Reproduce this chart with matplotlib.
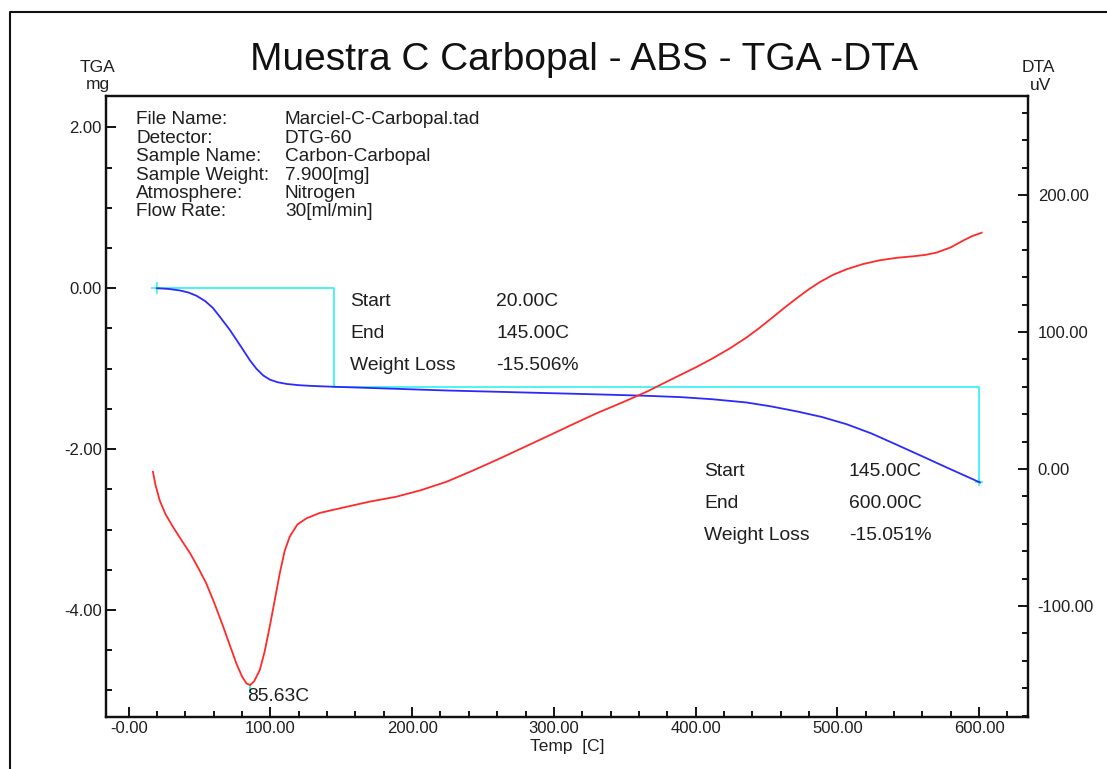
import numpy as np
import matplotlib as mpl
mpl.use('Agg')
import matplotlib.pyplot as plt
from matplotlib.ticker import MultipleLocator

plt.rcParams['font.family'] = ['Liberation Sans', 'DejaVu Sans']

# TGA curve (temperature C, mass change mg)
tga_temp = [20.0, 28.0, 36.0, 42.0, 47.8, 54.0, 59.5, 65.0, 71.3, 76.0, 80.7,
            85.5, 90.1, 95.0, 99.5, 105.0, 111.6, 120.0, 127.7, 136.0, 145.0,
            185.0, 224.2, 260.0, 294.8, 330.0, 365.4, 388.9, 412.0, 435.9,
            453.0, 471.2, 489.0, 506.5, 524.0, 541.8, 560.0, 577.1, 590.0, 600.6]
tga_mass = [0.0, -0.008, -0.027, -0.052, -0.093, -0.16, -0.246, -0.37, -0.516,
            -0.64, -0.765, -0.895, -1.0, -1.085, -1.135, -1.168, -1.19, -1.205,
            -1.213, -1.219, -1.225, -1.248, -1.271, -1.287, -1.303, -1.319,
            -1.337, -1.353, -1.380, -1.420, -1.468, -1.530, -1.600, -1.690,
            -1.805, -1.945, -2.090, -2.228, -2.330, -2.414]

# DTA curve (temperature C, signal uV)
dta_temp = [17.1, 19.0, 21.9, 26.0, 31.3, 37.0, 43.4, 49.0, 54.8, 60.5, 66.7,
            71.5, 76.0, 80.0, 83.1, 85.63, 88.5, 92.5, 96.0, 99.5, 103.0, 106.6,
            110.0, 113.6, 119.0, 125.4, 135.0, 148.9, 170.0, 188.9, 206.0,
            224.2, 242.0, 259.5, 277.0, 294.8, 312.0, 330.1, 348.0, 365.4,
            383.0, 400.6, 412.4, 424.0, 435.9, 445.0, 454.7, 463.0, 471.2,
            480.0, 487.7, 497.0, 506.5, 518.0, 530.0, 542.0, 553.5, 562.0,
            570.0, 580.0, 588.8, 595.0, 601.8]
dta_uv = [-2.0, -12.0, -22.9, -33.0, -42.3, -51.5, -61.6, -72.0, -83.6, -98.0,
          -115.1, -129.0, -142.0, -151.5, -156.5, -157.7, -155.0, -146.7, -133.0,
          -115.1, -96.0, -76.1, -60.0, -49.4, -40.5, -36.0, -32.0, -28.7, -23.8,
          -20.2, -15.5, -9.3, -1.5, 6.6, 15.0, 23.6, 32.0, 40.7, 48.5, 56.4,
          65.5, 74.5, 81.0, 88.0, 96.0, 103.0, 111.0, 118.0, 124.6, 131.3,
          136.5, 141.8, 145.8, 149.6, 152.4, 154.2, 155.3, 156.3, 158.0, 161.8,
          166.8, 170.0, 172.5]

# weight loss steps
step_start = [20.0, 145.0]
step_end = [145.0, 600.0]
step_mass_start = [0.0, -1.225]
step_mass_end = [-1.225, -2.414]
step_loss = ["-15.506%", "-15.051%"]
peak_temp = 85.63
peak_uv = -157.7

x_ticks = [0, 100, 200, 300, 400, 500, 600]
x_labels = ["-0.00", "100.00", "200.00", "300.00", "400.00", "500.00", "600.00"]
tga_ticks = [2, 0, -2, -4]
dta_ticks = [200, 100, 0, -100]

info_keys = ["File Name:", "Detector:", "Sample Name:", "Sample Weight:",
             "Atmosphere:", "Flow Rate:"]
info_vals = ["Marciel-C-Carbopal.tad", "DTG-60", "Carbon-Carbopal",
             "7.900[mg]", "Nitrogen", "30[ml/min]"]

W, H = 1107, 769
txt = '#1e1e1e'
cyan = '#3ff2f2'

fig = plt.figure(figsize=(W / 100, H / 100), dpi=100)


def fx(px):
    return px / W


def fy(py):
    return 1 - py / H


ax = fig.add_axes([fx(106), fy(717), fx(1028) - fx(106), fy(96) - fy(717)])
ax2 = ax.twinx()

ax.set_xlim(-16, 634.5)
ax.set_ylim(-5.33, 2.39)
ax2.set_ylim(-181, 272.3)

# cyan step boxes
for s, e, m0, m1 in zip(step_start, step_end, step_mass_start, step_mass_end):
    ax.plot([s, e, e], [m0, m0, m1], color=cyan, linewidth=1.3, zorder=2)
ax.plot([step_start[0]], [step_mass_start[0]], marker='+', color=cyan,
        markersize=8, mew=1.2, zorder=3)
ax.plot([step_end[1]], [step_mass_end[1]], marker='+', color=cyan,
        markersize=6, mew=1.2, zorder=3)

ax.plot(tga_temp, tga_mass, color='#2a2aff', linewidth=1.3, zorder=4)
ax2.plot(dta_temp, dta_uv, color='#ff2a2a', linewidth=1.3, zorder=4)
ax2.plot([peak_temp, peak_temp], [peak_uv, peak_uv - 5], color=cyan, linewidth=1.5)

for a in (ax, ax2):
    for sp in a.spines.values():
        sp.set_linewidth(1.6)
        sp.set_color('#111111')

ax.set_xticks(x_ticks)
ax.set_xticklabels(x_labels)
ax.xaxis.set_minor_locator(MultipleLocator(20))
ax.set_yticks(tga_ticks)
ax.set_yticklabels(["%.2f" % v for v in tga_ticks])
ax.yaxis.set_minor_locator(MultipleLocator(0.5))
ax2.set_yticks(dta_ticks)
ax2.set_yticklabels(["%.2f" % v for v in dta_ticks])
ax2.yaxis.set_minor_locator(MultipleLocator(20))

ax.tick_params(which='major', direction='in', length=7, width=1.3,
               labelsize=12, labelcolor=txt, pad=3)
ax.tick_params(which='minor', direction='in', length=4, width=1.3)
ax2.tick_params(which='major', direction='in', length=7, width=1.3,
                labelsize=12, labelcolor=txt, pad=7)
ax2.tick_params(which='minor', direction='in', length=4, width=1.3)

# texts
fig.text(fx(584), fy(60), "Muestra C Carbopal - ABS - TGA -DTA", fontsize=28,
         ha='center', va='center', color='#111111')
fig.text(fx(97), fy(68), "TGA", fontsize=12.5, ha='center', va='center', color=txt)
fig.text(fx(98), fy(85), "mg", fontsize=12.5, ha='center', va='center', color=txt)
fig.text(fx(1038), fy(68), "DTA", fontsize=12.5, ha='center', va='center', color=txt)
fig.text(fx(1041), fy(85), "uV", fontsize=12.5, ha='center', va='center', color=txt)
fig.text(fx(567), fy(746), "Temp  [C]", fontsize=12.5, ha='center', va='center', color=txt)

for i, (k, v) in enumerate(zip(info_keys, info_vals)):
    y = 120 + i * 18.4
    fig.text(fx(136), fy(y), k, fontsize=13.7, ha='left', va='center', color=txt)
    fig.text(fx(285), fy(y), v, fontsize=13.7, ha='left', va='center', color=txt)

blocks = [(350, 496, 301), (704, 849, 471)]
for (kx, vx, y0), s, e, loss in zip(blocks, step_start, step_end, step_loss):
    rows = [("Start", "%.2fC" % s), ("End", "%.2fC" % e), ("Weight Loss", loss)]
    for j, (k, v) in enumerate(rows):
        y = y0 + j * 32
        fig.text(fx(kx), fy(y), k, fontsize=13.9, ha='left', va='center', color=txt)
        fig.text(fx(vx), fy(y), v, fontsize=13.9, ha='left', va='center', color=txt)

ax2.annotate("%.2fC" % peak_temp, xy=(peak_temp, peak_uv), xytext=(-2, -2),
             textcoords='offset points', ha='left', va='top', fontsize=13.9,
             color=txt)

# outer frame
fig.add_artist(plt.Line2D([fx(10), fx(10), 1.0], [0.0, fy(11.5), fy(11.5)],
                          color='#111111', linewidth=1.5))

fig.savefig('out.png', dpi=100)
